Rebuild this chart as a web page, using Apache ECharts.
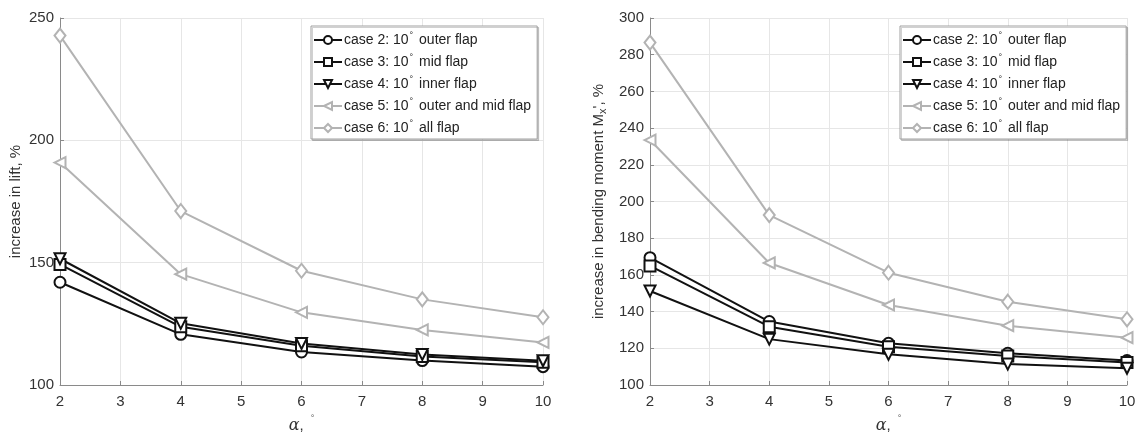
<!DOCTYPE html>
<html>
<head>
<meta charset="utf-8">
<script src="https://cdn.jsdelivr.net/npm/echarts@6/dist/echarts.min.js"></script>
<style>
  html, body { margin: 0; padding: 0; background: #fff; }
  #chart { width: 1139px; height: 435px; }
</style>
</head>
<body>
<div id="chart"></div>
<script>
// angle of attack
var alpha = [2, 4, 6, 8, 10];

var caseNames = [
  "case 2: 10° outer flap",
  "case 3: 10° mid flap",
  "case 4: 10° inner flap",
  "case 5: 10° outer and mid flap",
  "case 6: 10° all flap"
];

// increase in lift, %
var lift2 = [142, 120.7, 113.5, 110, 107.5];
var lift3 = [149.3, 123.8, 116, 111.6, 109.3];
var lift4 = [151.6, 125.2, 117, 112.5, 109.9];
var lift5 = [190.9, 145.3, 129.7, 122.5, 117.4];
var lift6 = [242.8, 171.1, 146.7, 135, 127.7];

// increase in bending moment Mx, %
var moment2 = [169.4, 134.6, 122.7, 117.3, 113.3];
var moment3 = [164.9, 131.8, 120.9, 115.8, 112.2];
var moment4 = [151.2, 125, 116.7, 111.4, 109.1];
var moment5 = [233.5, 166.5, 143.6, 132.3, 125.8];
var moment6 = [286.6, 192.6, 161.2, 145.4, 135.8];

var liftTicks = { min: 100, max: 250, interval: 50 };
var momentTicks = { min: 100, max: 300, interval: 20 };

var black = "#111111";
var grey = "#b3b3b3";
var font = "Liberation Sans, Arial, sans-serif";

var marks = [
  { symbol: "emptyCircle", rotate: 0, color: black },
  { symbol: "emptyRect", rotate: 0, color: black },
  { symbol: "emptyTriangle", rotate: 180, color: black },
  { symbol: "emptyTriangle", rotate: 90, color: grey },
  { symbol: "emptyDiamond", rotate: 0, color: grey }
];

function pairs(vals) {
  return alpha.map(function (a, i) { return [a, vals[i]]; });
}

function makeSeries(sets, idx) {
  return sets.map(function (vals, i) {
    var m = marks[i];
    return {
      name: caseNames[i],
      type: "line",
      xAxisIndex: idx,
      yAxisIndex: idx,
      data: pairs(vals),
      symbol: m.symbol,
      symbolRotate: m.rotate,
      symbolSize: m.symbol === "emptyDiamond" ? [11, 14] : 11,
      showAllSymbol: true,
      lineStyle: { color: m.color, width: 2 },
      itemStyle: { color: m.color, borderColor: m.color, borderWidth: 1.6 },
      z: i < 3 ? 3 : 2,
      animation: false
    };
  });
}

function xAxisOpt(idx) {
  return {
    type: "value",
    gridIndex: idx,
    min: 2, max: 10, interval: 1,
    name: "{a|α}{n|, }{sup|°}",
    nameLocation: "middle",
    nameGap: 29,
    nameTextStyle: {
      color: "#333",
      rich: {
        a: { fontFamily: "DejaVu Serif, serif", fontStyle: "italic", fontSize: 16, color: "#333" },
        n: { fontFamily: font, fontSize: 15, color: "#333" },
        sup: { fontFamily: font, fontSize: 9, color: "#555", padding: [0, 0, 14, 3] }
      }
    },
    axisLine: { show: true, lineStyle: { color: "#8a8a8a", width: 1 } },
    axisTick: { show: true, inside: true, length: 4, lineStyle: { color: "#8a8a8a" } },
    axisLabel: { color: "#333", fontSize: 15, fontFamily: font, margin: 9 },
    splitLine: { show: true, lineStyle: { color: "#e6e6e6", width: 1 } }
  };
}

function yAxisOpt(idx, ticks, name, gap) {
  return {
    type: "value",
    gridIndex: idx,
    min: ticks.min, max: ticks.max, interval: ticks.interval,
    name: name,
    nameLocation: "middle",
    nameGap: gap,
    nameTextStyle: {
      color: "#333", fontSize: 15, fontFamily: font,
      rich: {
        n: { fontSize: 15, fontFamily: font, color: "#333" },
        sub: { fontSize: 11, fontFamily: font, color: "#333", padding: [8, 0, 0, 0] }
      }
    },
    axisLine: { show: true, lineStyle: { color: "#8a8a8a", width: 1 } },
    axisTick: { show: true, inside: true, length: 4, lineStyle: { color: "#8a8a8a" } },
    axisLabel: { color: "#333", fontSize: 15, fontFamily: font, margin: 6 },
    splitLine: { show: true, lineStyle: { color: "#e6e6e6", width: 1 } }
  };
}

function legendOpt(left) {
  return {
    left: left, top: 26,
    orient: "vertical",
    itemWidth: 28, itemHeight: 10, itemGap: 6,
    padding: [5, 6, 4, 2],
    backgroundColor: "#fff",
    borderColor: "#a0a0a0", borderWidth: 1,
    shadowColor: "rgba(0,0,0,0.18)", shadowOffsetX: 1.5, shadowOffsetY: 1.5, shadowBlur: 0,
    data: caseNames,
    selectedMode: false,
    formatter: function (name) { return name.replace("°", "{sup|°}"); },
    textStyle: {
      fontSize: 14, fontFamily: font, color: "#222", padding: [0, 0, 0, -3],
      rich: {
        sup: { fontSize: 9, fontFamily: font, color: "#222", padding: [0, 2, 9, 1] }
      }
    }
  };
}

var chart = echarts.init(document.getElementById("chart"), null, { renderer: "canvas" });
chart.setOption({
  backgroundColor: "#fff",
  animation: false,
  grid: [
    { left: 60, top: 18, width: 483, height: 367, outerBoundsMode: "none", containLabel: false },
    { left: 650, top: 18, width: 477, height: 367, outerBoundsMode: "none", containLabel: false }
  ],
  xAxis: [xAxisOpt(0), xAxisOpt(1)],
  yAxis: [
    yAxisOpt(0, liftTicks, "increase in lift, %", 37),
    yAxisOpt(1, momentTicks, "{n|increase in bending moment M}{sub|x}{n|', %}", 42)
  ],
  legend: [legendOpt(311), legendOpt(900)],
  series: makeSeries([lift2, lift3, lift4, lift5, lift6], 0)
    .concat(makeSeries([moment2, moment3, moment4, moment5, moment6], 1))
});
</script>
</body>
</html>
